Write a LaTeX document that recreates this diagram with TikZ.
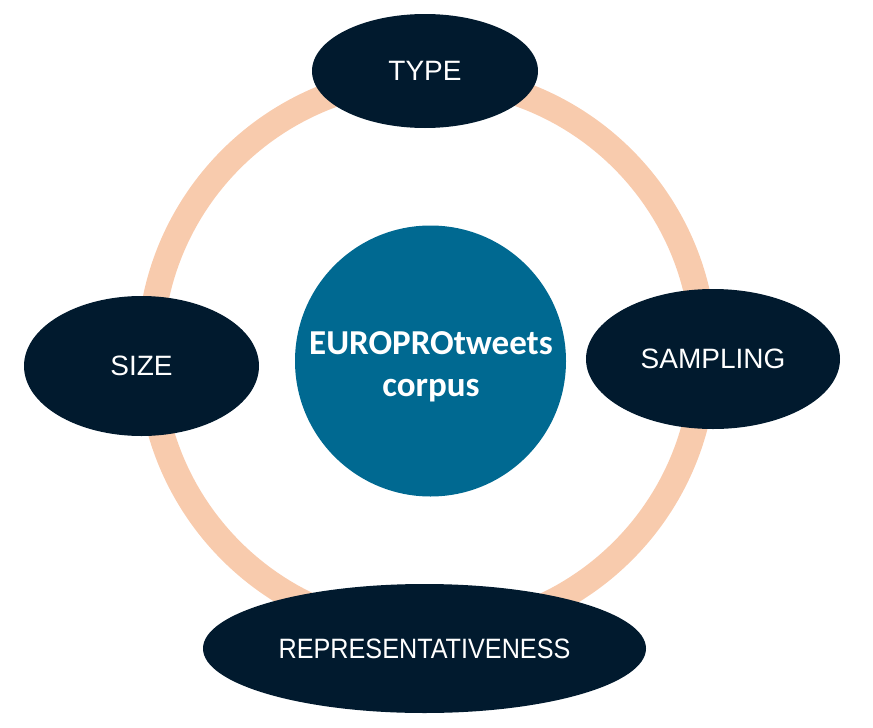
\documentclass[tikz,border=0pt]{standalone}
\usepackage{fontspec}
\setmainfont{Liberation Sans}
\newfontfamily\carlito{Carlito}
\usetikzlibrary{shapes.geometric}
\definecolor{navy}{HTML}{011A2E}
\definecolor{teal}{HTML}{006991}
\definecolor{peach}{HTML}{F8CBAD}
\tikzset{
  topic/.style={ellipse, fill=navy, draw=none, inner sep=0pt, text=white,
    font=\fontsize{28}{32}\selectfont},
  corestyle/.style={circle, fill=teal, draw=none, inner sep=0pt, minimum size=271pt},
  coretext/.style={text=white, align=center, inner sep=0pt,
    font=\carlito\bfseries\fontsize{35}{42}\selectfont},
  ring/.style={draw=peach, line width=26pt}
}
\begin{document}
\begin{tikzpicture}[x=1pt,y=-1pt]
\useasboundingbox (0,0) rectangle (873,728);
\coordinate (ringc) at (427,355);
\draw[ring] (ringc) circle[radius=277pt];
\node[corestyle] (core) at (430.5,361) {};
\node[coretext] (coretxt) at (431,367) {EUROPROtweets\\corpus};
\node[topic, minimum width=226pt, minimum height=114pt] (type) at (425,71) {TYPE};
\node[topic, minimum width=235pt, minimum height=140pt] (size) at (141.5,366) {SIZE};
\node[topic, minimum width=254pt, minimum height=140pt] (sampling) at (713,359) {SAMPLING};
\node[topic, minimum width=443pt, minimum height=129pt] (repr) at (424.5,648.5) {\scalebox{0.9}[1]{REPRESENTATIVENESS}};
\end{tikzpicture}
\end{document}
